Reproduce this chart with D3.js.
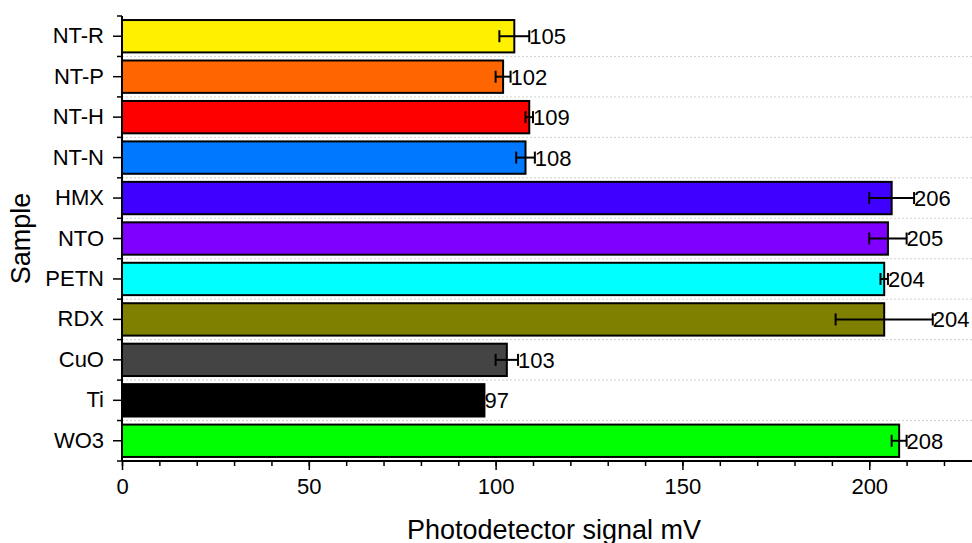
<!DOCTYPE html>
<html>
<head>
<meta charset="utf-8">
<script src="https://cdn.jsdelivr.net/npm/d3@7"></script>
<style>
  body { margin: 0; background: #fff; }
  svg { font-family: "Liberation Sans", Arial, sans-serif; }
</style>
</head>
<body>
<div id="chart"></div>
<script>
var samples = ['NT-R', 'NT-P', 'NT-H', 'NT-N', 'HMX', 'NTO', 'PETN', 'RDX', 'CuO', 'Ti', 'WO3']
var signal = [105, 102, 109, 108, 206, 205, 204, 204, 103, 97, 208]
var errors = [4, 2, 1, 2.5, 6, 5, 1, 13, 3, 0, 2]
var colors = ['#fff000', '#ff6600', '#ff0000', '#0078ff', '#4000ff', '#8000ff', '#00ffff', '#808000', '#444444', '#000000', '#00ff00']
var xTicks = [0, 50, 100, 150, 200]

var data = samples.map(function(s, i){
  return {name: s, val: signal[i], err: errors[i], color: colors[i]}
})

var W = 972, H = 543
var margin = {left: 122, right: 0, top: 16, bottom: 82}
var width = W - margin.left - margin.right
var height = H - margin.top - margin.bottom

var svg = d3.select('#chart').append('svg').attr('width', W).attr('height', H)
var g = svg.append('g').attr('transform', 'translate(' + margin.left + ',' + margin.top + ')')

var x = d3.scaleLinear().domain([0, 227.5]).range([0, width])
var y = d3.scaleBand().domain(samples).range([0, height]).paddingInner(0.2).paddingOuter(0.1)
var step = y.step()

// dotted grid at band boundaries
d3.range(1, samples.length).forEach(function(i){
  g.append('line')
    .attr('x1', 0).attr('x2', width)
    .attr('y1', i * step).attr('y2', i * step)
    .attr('stroke', '#d0d0d0').attr('stroke-width', 1).attr('stroke-dasharray', '2,2')
})

// bars
g.selectAll('rect.bar').data(data).enter().append('rect')
  .attr('class', 'bar')
  .attr('x', x(0))
  .attr('y', function(d){ return y(d.name) })
  .attr('width', function(d){ return x(d.val) - x(0) })
  .attr('height', y.bandwidth())
  .attr('fill', function(d){ return d.color })
  .attr('stroke', '#000').attr('stroke-width', 2)

// error bars
var eb = g.selectAll('g.err').data(data.filter(function(d){ return d.err > 0 })).enter().append('g')
  .attr('transform', function(d){ return 'translate(0,' + (y(d.name) + y.bandwidth() / 2) + ')' })
eb.append('line')
  .attr('x1', function(d){ return x(d.val - d.err) })
  .attr('x2', function(d){ return x(d.val + d.err) })
  .attr('stroke', '#000').attr('stroke-width', 2)
eb.selectAll('line.cap').data(function(d){ return [d.val - d.err, d.val + d.err] }).enter().append('line')
  .attr('x1', function(v){ return x(v) }).attr('x2', function(v){ return x(v) })
  .attr('y1', -6).attr('y2', 6)
  .attr('stroke', '#000').attr('stroke-width', 2)

// value labels
g.selectAll('text.val').data(data).enter().append('text')
  .attr('x', function(d){ return x(d.val + d.err) })
  .attr('y', function(d){ return y(d.name) + y.bandwidth() / 2 })
  .attr('dy', '0.36em')
  .attr('font-size', 22)
  .text(function(d){ return d.val })

// x axis
var xAxisG = g.append('g').attr('transform', 'translate(0,' + height + ')')
xAxisG.append('g')
  .call(d3.axisBottom(x).tickValues(d3.range(0, 221, 10)).tickSize(5).tickFormat(''))
  .call(function(a){ a.select('.domain').remove() })
  .selectAll('line').attr('stroke-width', 1.5)
xAxisG.append('g')
  .call(d3.axisBottom(x).tickValues(xTicks).tickSize(9).tickPadding(8).tickFormat(d3.format('d')))
  .call(function(a){
    a.select('.domain').attr('d', 'M0,0H' + width).attr('stroke-width', 2)
    a.selectAll('line').attr('stroke-width', 1.5)
    a.selectAll('text').attr('font-size', 22).attr('fill', '#000')
  })

// y axis
var yAxisG = g.append('g')
yAxisG.selectAll('line.minor').data(d3.range(0, samples.length + 1)).enter().append('line')
  .attr('x1', -5).attr('x2', 0)
  .attr('y1', function(i){ return i * step }).attr('y2', function(i){ return i * step })
  .attr('stroke', '#000').attr('stroke-width', 1.5)
yAxisG.call(d3.axisLeft(y).tickSize(9).tickPadding(9).tickSizeOuter(0))
  .call(function(a){
    a.select('.domain').attr('d', 'M0,0V' + height).attr('stroke-width', 2)
    a.selectAll('line').attr('stroke-width', 1.5)
    a.selectAll('text').attr('font-size', 22).attr('fill', '#000')
  })

// titles
svg.append('text')
  .attr('x', 554).attr('y', 539)
  .attr('text-anchor', 'middle').attr('font-size', 27)
  .text('Photodetector signal mV')

svg.append('text')
  .attr('transform', 'translate(30,' + (margin.top + height / 2) + ') rotate(-90)')
  .attr('text-anchor', 'middle').attr('font-size', 27)
  .text('Sample')
</script>
</body>
</html>
